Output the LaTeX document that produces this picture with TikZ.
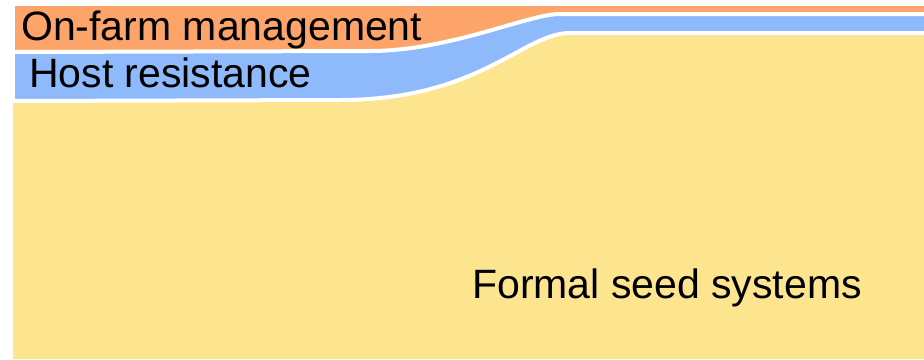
\documentclass[tikz,border=0pt]{standalone}
\usepackage{fontspec}
\setmainfont{Liberation Sans}
\definecolor{farmorange}{RGB}{253,164,106}
\definecolor{hostblue}{RGB}{142,186,251}
\definecolor{seedyellow}{RGB}{252,229,142}
\begin{document}
\begin{tikzpicture}[x=1pt,y=-1pt,
  sep/.style={draw=white,line width=4pt},
  label/.style={inner sep=0pt,anchor=base west,font=\fontsize{41}{48}\selectfont}]
\useasboundingbox[fill=white] (0,0) rectangle (924,359);
% yellow: formal seed systems
\fill[seedyellow] (13,359) -- (13,101) -- (340,100)
  .. controls (480,100) and (523,33) .. (570,33) -- (924,33) -- (924,359) -- cycle;
% blue: host resistance
\fill[hostblue] (15,101) -- (15,52) -- (370,51)
  .. controls (450,51) and (528,14) .. (560,14) -- (924,14) -- (924,33) -- (570,33)
  .. controls (523,33) and (480,100) .. (340,100) -- cycle;
% orange: on-farm management
\fill[farmorange] (15,52) -- (15,6) -- (924,6) -- (924,14) -- (560,14)
  .. controls (528,14) and (450,51) .. (370,51) -- cycle;
% white separators
\draw[sep] (13,101) -- (340,100) .. controls (480,100) and (523,33) .. (570,33) -- (924,33);
\draw[sep] (15,52) -- (370,51) .. controls (450,51) and (528,14) .. (560,14) -- (924,14);
% labels
\node[label] (farm) at (21,40) {On-farm management};
\node[label] (host) at (29,87) {Host resistance};
\node[label] (formal) at (472,298) {Formal seed systems};
\end{tikzpicture}
\end{document}
